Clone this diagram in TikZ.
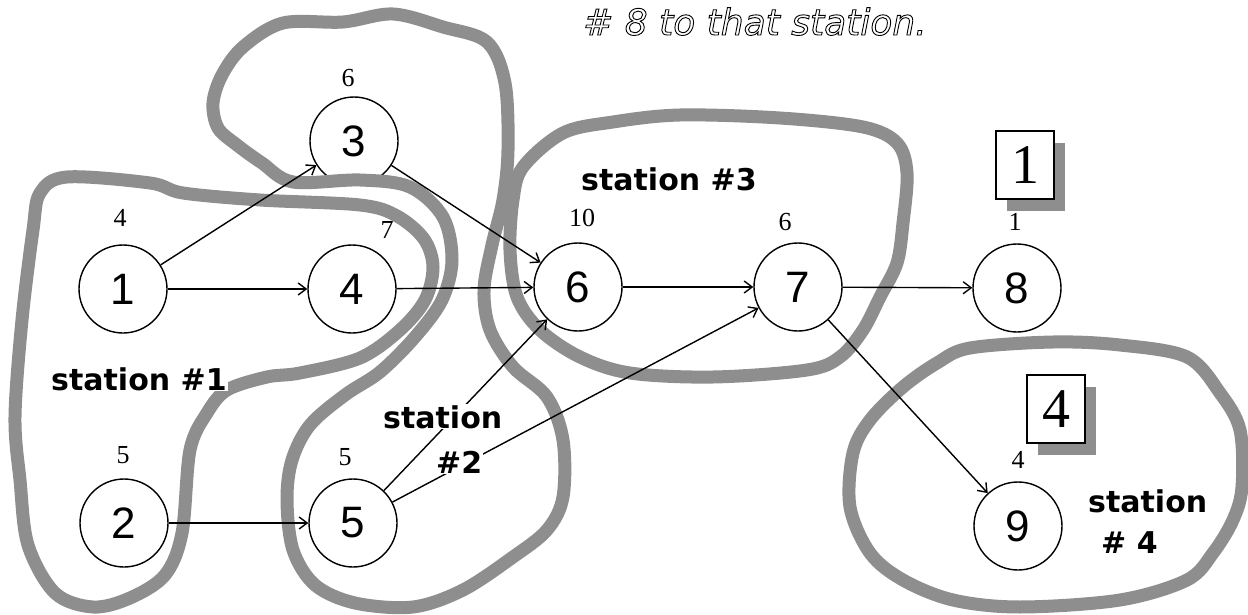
\documentclass[tikz,border=0pt]{standalone}
\usepackage{fontspec}
\setmainfont{Liberation Serif}
\newfontfamily\numfont{Liberation Sans}
\newfontfamily\stfont{DejaVu Sans}
\usetikzlibrary{arrows.meta}
\definecolor{bandgray}{HTML}{8E8E8E}
\tikzset{
  task/.style={circle, draw, line width=1.4pt, minimum size=88pt, inner sep=0pt, fill=white, font=\numfont\fontsize{44}{44}\selectfont},
  weight/.style={font=\fontsize{26}{26}\selectfont, inner sep=0pt},
  band/.style={draw=bandgray, line width=13pt, line join=round},
  edge/.style={line width=1.4pt, -{Straight Barb[length=8pt,width=12pt,line width=1.4pt]}},
  stlabel/.style={font=\stfont\bfseries\fontsize{30}{30}\selectfont, inner sep=1pt, anchor=base west},
  numbox/.style={draw, line width=1.5pt, fill=white, minimum width=58pt, minimum height=68pt, inner sep=0pt, font=\fontsize{56}{56}\selectfont},
  boxshadow/.style={fill=bandgray, minimum width=58pt, minimum height=68pt, inner sep=0pt},
}
\begin{document}
\begin{tikzpicture}[x=1pt,y=-1pt]
\useasboundingbox (0,0) rectangle (1248,615);
% top text (outlined italic)
\node[anchor=base west, inner sep=0pt, font=\stfont\itshape\fontsize{36}{36}\selectfont] (toptext) at (583,35) {\special{pdf:literal direct 1 Tr 0.9 w}\# 8 to that station.\special{pdf:literal direct 0 Tr}};
% tasks
\node[task] (n1) at (123,289) {1};
\node[task] (n2) at (124,523) {2};
\node[task] (n3) at (354,141) {3};
\node[task] (n4) at (352,289) {4};
\node[task] (n5) at (353,523) {5};
\node[task] (n6) at (578,287) {6};
\node[task] (n7) at (798,287) {7};
\node[task] (n8) at (1017,288) {8};
\node[task] (n9) at (1018,526) {9};
% weights
\node[weight] (w1) at (120,218) {4};
\node[weight] (w2) at (123,455) {5};
\node[weight] (w3) at (348,78) {6};
\node[weight] (w4) at (387,230) {7};
\node[weight] (w5) at (345,457) {5};
\node[weight] (w6) at (582,218) {10};
\node[weight] (w7) at (785,222) {6};
\node[weight] (w8) at (1015,222) {1};
\node[weight] (w9) at (1018,460) {4};
% station outlines
\draw[band] plot[smooth cycle, tension=0.55] coordinates {(40,193) (67,177) (150,183) (183,193) (260,200) (360,205) (397,216) (424,239) (433,267) (425,300) (400,330) (360,358) (300,373) (267,377) (227,390) (207,413) (190,450) (182,533) (165,575) (130,598) (93,607) (55,593) (28,545) (20,480) (15,417) (22,320) (33,230)};
\draw[band] plot[smooth cycle, tension=0.55] coordinates {(222,75) (243,47) (283,23) (343,22) (393,14) (443,27) (487,42) (505,83) (508,150) (503,200) (492,245) (484,290) (490,330) (513,367) (547,397) (563,440) (563,497) (547,530) (513,557) (463,590) (413,607) (355,603) (315,585) (293,550) (287,500) (292,460) (310,425) (345,395) (380,372) (415,337) (442,300) (452,260) (443,217) (410,187) (360,180) (293,182) (262,163) (237,145) (218,128) (213,103)};
\draw[band] plot[smooth cycle, tension=0.55] coordinates {(523,167) (563,133) (613,122) (680,115) (780,118) (863,127) (897,143) (907,173) (903,223) (897,263) (880,297) (863,330) (840,357) (807,370) (713,377) (630,373) (580,357) (540,330) (517,297) (510,250) (513,200)};
\draw[band] plot[smooth cycle, tension=0.55] coordinates {(970,348) (1053,342) (1120,345) (1187,357) (1220,393) (1240,430) (1242,487) (1233,520) (1213,553) (1187,580) (1120,600) (1020,607) (953,600) (903,580) (870,553) (850,507) (853,453) (870,420) (903,387) (937,363)};
% precedence edges
\draw[edge] (n1) -- (n3);
\draw[edge] (n1) -- (n4);
\draw[edge] (n2) -- (n5);
\draw[edge] (n3) -- (n6);
\draw[edge] (n4) -- (n6);
\draw[edge] (n5) -- (n6);
\draw[edge] (n5) -- (n7);
\draw[edge] (n6) -- (n7);
\draw[edge] (n7) -- (n8);
\draw[edge] (n7) -- (n9);
% station labels
\node[stlabel] (st3) at (580,190) {station \#3};
\node[stlabel, fill=white] (st1) at (50,390) {station \#1};
\node[stlabel, fill=white] (st2a) at (382,428) {station};
\node[stlabel, fill=white] (st2b) at (435,473) {\#2};
\node[stlabel] (st4a) at (1087,512) {station};
\node[stlabel] (st4b) at (1100,553) {\# 4};
% numbered boxes
\node[boxshadow] (b1s) at (1036,177) {};
\node[numbox] (b1) at (1025,165) {1};
\node[boxshadow] (b4s) at (1067,421) {};
\node[numbox] (b4) at (1056,409) {4};
\end{tikzpicture}
\end{document}
